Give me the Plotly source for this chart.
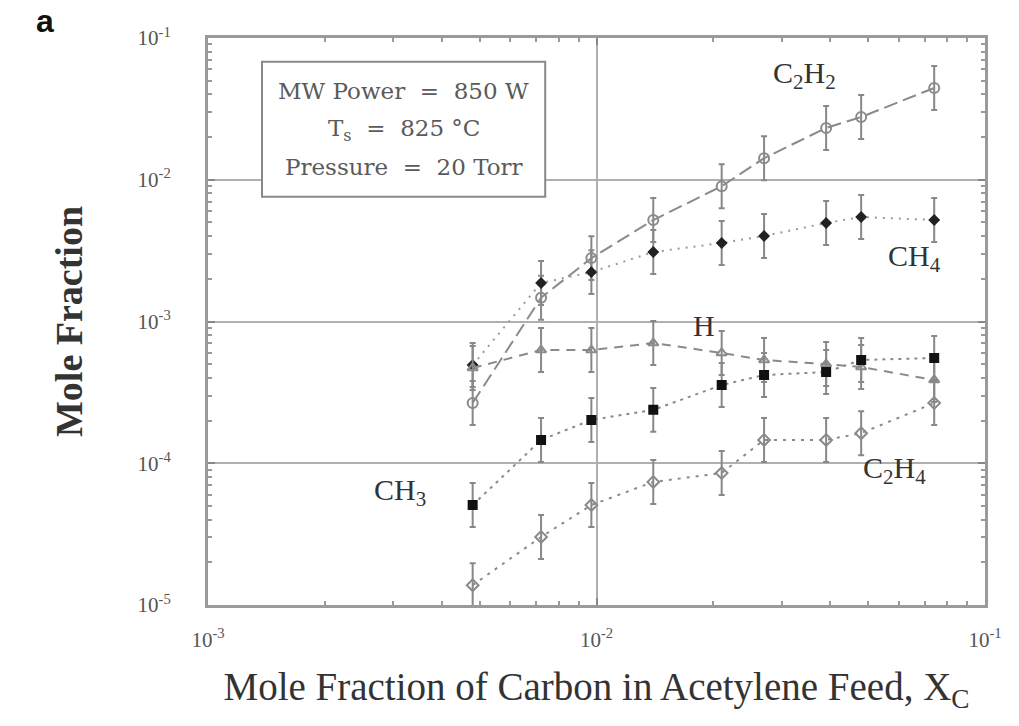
import math
import plotly.graph_objects as go

# ---- data ----
x_carbon = [0.0048, 0.0072, 0.0097, 0.014, 0.021, 0.027, 0.039, 0.048, 0.074]

c2h2 = [2.66e-4, 1.47e-3, 2.8e-3, 5.2e-3, 9.0e-3, 1.42e-2, 2.32e-2, 2.77e-2, 4.44e-2]
ch4 = [4.93e-4, 1.87e-3, 2.23e-3, 3.09e-3, 3.58e-3, 4.01e-3, 4.95e-3, 5.46e-3, 5.2e-3]
h_atom = [4.70e-4, 6.29e-4, 6.29e-4, 7.05e-4, 6.0e-4, 5.35e-4, 5.01e-4, 4.77e-4, 3.87e-4]
ch3 = [5.07e-5, 1.46e-4, 2.02e-4, 2.38e-4, 3.56e-4, 4.19e-4, 4.40e-4, 5.35e-4, 5.53e-4]
c2h4 = [1.38e-5, 3.02e-5, 5.07e-5, 7.38e-5, 8.53e-5, 1.46e-4, 1.46e-4, 1.63e-4, 2.66e-4]

err_factor = 10 ** 0.155  # multiplicative error (log-symmetric)

y_tickvals = [1e-5, 1e-4, 1e-3, 1e-2, 1e-1]
y_ticktext = ["10<sup>-5</sup>", "10<sup>-4</sup>", "10<sup>-3</sup>", "10<sup>-2</sup>", "10<sup>-1</sup>"]
x_tickvals = [1e-3, 1e-2, 1e-1]
x_ticktext = ["10<sup>-3</sup>", "10<sup>-2</sup>", "10<sup>-1</sup>"]

series = [
    dict(name="C2H2", y=c2h2, symbol="circle-open", size=10, mcolor="#8a8a8a",
         dash="14px,6px", lcolor="#8a8a8a"),
    dict(name="CH4", y=ch4, symbol="diamond", size=7, mcolor="#222222",
         dash="2px,6px", lcolor="#9a9a9a"),
    dict(name="H", y=h_atom, symbol="triangle-up-open", size=9, mcolor="#8a8a8a",
         dash="9px,7px", lcolor="#8a8a8a"),
    dict(name="CH3", y=ch3, symbol="square", size=8, mcolor="#111111",
         dash="3px,5px", lcolor="#8a8a8a"),
    dict(name="C2H4", y=c2h4, symbol="diamond-open", size=9, mcolor="#8a8a8a",
         dash="3px,6px", lcolor="#8a8a8a"),
]

labels = [
    ("C<sub>2</sub>H<sub>2</sub>", 0.0344, 0.0548),
    ("CH<sub>4</sub>", 0.066, 0.0028),
    ("H", 0.0189, 9.3e-4),
    ("CH<sub>3</sub>", 0.00312, 6.27e-5),
    ("C<sub>2</sub>H<sub>4</sub>", 0.0586, 8.95e-5),
]

NB = "\u00a0"
info_lines = [f"MW{NB}Power{NB}{NB}={NB}{NB}850{NB}W",
              f"T<sub>s</sub>{NB}{NB}={NB}{NB}825{NB}°C",
              f"Pressure{NB}{NB}={NB}{NB}20{NB}Torr"]

serif = "Liberation Serif, Times New Roman, serif"

fig = go.Figure()
for s in series:
    up = [v * (err_factor - 1) for v in s["y"]]
    dn = [v * (1 - 1 / err_factor) for v in s["y"]]
    fig.add_trace(go.Scatter(
        x=x_carbon, y=s["y"], mode="lines+markers", name=s["name"],
        line=dict(color=s["lcolor"], width=2, dash=s["dash"]),
        marker=dict(symbol=s["symbol"], size=s["size"], color=s["mcolor"],
                    line=dict(color=s["mcolor"], width=2)),
        error_y=dict(type="data", symmetric=False, array=up, arrayminus=dn,
                     color="#888888", thickness=2, width=3),
        showlegend=False,
    ))

# annotation positions on log axes are given in log10 units
for txt, lx, ly in labels:
    fig.add_annotation(x=math.log10(lx), y=math.log10(ly), xref="x", yref="y", text=txt,
                       showarrow=False, xanchor="center", yanchor="middle",
                       font=dict(family=serif, size=30, color="#333333"))

# info box
fig.add_shape(type="rect", xref="paper", yref="paper", x0=0.0695, x1=0.434, y0=0.720, y1=0.958,
              line=dict(color="#888888", width=2), fillcolor="white", layer="above")
for txt, py in zip(info_lines, [0.906, 0.838, 0.772]):
    fig.add_annotation(x=0.2517, y=py, xref="paper", yref="paper", text=txt, showarrow=False,
                       xanchor="center", yanchor="middle",
                       font=dict(family="DejaVu Serif, serif", size=23, color="#5a5a5a"))

fig.add_annotation(x=-0.21, y=1.03, xref="paper", yref="paper", text="<b>a</b>",
                   showarrow=False, xanchor="center", yanchor="middle",
                   font=dict(family="Liberation Sans, Arial, sans-serif", size=32, color="#111111"))

axis_common = dict(
    type="log", showline=True, linecolor="#9a9a9a", linewidth=3, mirror="ticks",
    ticks="inside", ticklen=7, tickcolor="#888888", tickwidth=2,
    showgrid=True, gridcolor="#b0b0b0", gridwidth=2, zeroline=False,
    tickfont=dict(family=serif, size=21, color="#555555"),
    minor=dict(ticks="inside", ticklen=4, tickcolor="#999999", tickwidth=2,
               dtick="D1", showgrid=False),
)

fig.update_xaxes(**axis_common, range=[-3, -1], tickvals=x_tickvals, ticktext=x_ticktext,
                 ticklabelstandoff=14,
                 title=dict(text="Mole Fraction of Carbon in Acetylene Feed, X<sub>C</sub>",
                            font=dict(family=serif, size=39, color="#333333"), standoff=22))
fig.update_yaxes(**axis_common, range=[-5, -1], tickvals=y_tickvals, ticktext=y_ticktext,
                 ticklabelstandoff=30,
                 title=dict(text="<b>Mole Fraction</b>",
                            font=dict(family=serif, size=38, color="#333333"), standoff=44))

fig.update_layout(
    width=1019, height=726,
    margin=dict(l=208, r=34, t=38, b=121),
    plot_bgcolor="white", paper_bgcolor="white",
)

fig.write_html("out.html")
